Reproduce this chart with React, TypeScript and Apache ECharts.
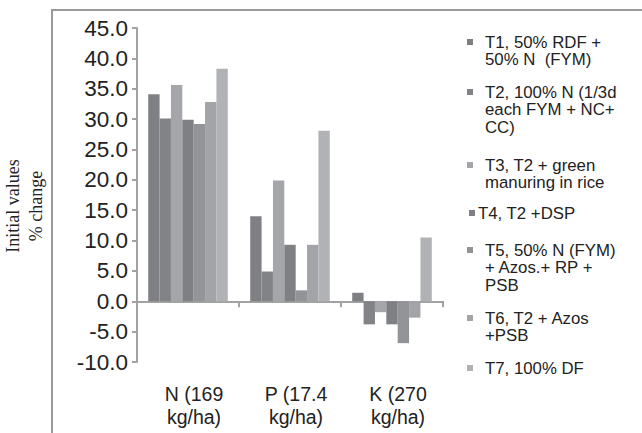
import React, { useEffect, useRef } from "react";
import * as echarts from "echarts";

const categories = ["N (169\nkg/ha)", "P (17.4\nkg/ha)", "K (270\nkg/ha)"];
const seriesNames = [
  "T1, 50% RDF +\n50% N  (FYM)",
  "T2, 100% N (1/3d\neach FYM + NC+\nCC)",
  "T3, T2 + green\nmanuring in rice",
  "T4, T2 +DSP",
  "T5, 50% N (FYM)\n+ Azos.+ RP +\nPSB",
  "T6, T2 + Azos\n+PSB",
  "T7, 100% DF",
];
const t1 = [34.1, 14.0, 1.4];
const t2 = [30.1, 4.9, -3.8];
const t3 = [35.6, 19.9, -1.8];
const t4 = [29.9, 9.3, -3.8];
const t5 = [29.2, 1.8, -6.9];
const t6 = [32.8, 9.3, -2.7];
const t7 = [38.3, 28.1, 10.5];
const seriesValues = [t1, t2, t3, t4, t5, t6, t7];
const colors = ["#7f8084", "#828387", "#a5a6a9", "#7f8084", "#939498", "#a3a4a7", "#b1b2b5"];
const legendFirstLineY = [42, 92, 165, 213, 250, 318, 368];

const SANS = '"Liberation Sans", Arial, sans-serif';
const SERIF = '"Liberation Serif", "Times New Roman", serif';
const AXIS_GRAY = "#a2a2a2";

export default function App() {
  const ref = useRef<HTMLDivElement>(null);
  useEffect(() => {
    if (!ref.current) return;
    const chart = echarts.init(ref.current, null, { renderer: "svg" });
    const legendGraphics: any[] = [];
    seriesNames.forEach((name, i) => {
      const y = legendFirstLineY[i];
      const isShort = i === 3;
      legendGraphics.push({
        type: "rect",
        shape: { x: isShort ? 469 : 467, y: y - 3, width: 6, height: 6 },
        style: { fill: colors[i] },
      });
      legendGraphics.push({
        type: "text",
        x: isShort ? 478 : 485,
        y: y - 8.75,
        style: {
          text: name,
          font: `16.8px ${SANS}`,
          lineHeight: 17.5,
          fill: "#222",
          textAlign: "left",
          textVerticalAlign: "top",
        },
      });
    });
    chart.setOption({
      animation: false,
      backgroundColor: "#fff",
      grid: { left: 124, right: 199, top: 28, bottom: 71, containLabel: false },
      xAxis: [
        {
          type: "category",
          data: categories,
          axisLine: { onZero: true, lineStyle: { color: AXIS_GRAY, width: 2 } },
          axisTick: { show: true, length: 6, lineStyle: { color: AXIS_GRAY, width: 2 } },
          axisLabel: { show: false },
          splitLine: { show: false },
        },
        {
          type: "category",
          data: categories,
          position: "bottom",
          axisLine: { show: false, onZero: false },
          axisTick: { show: false },
          axisLabel: {
            show: true,
            fontFamily: SANS,
            fontSize: 19.5,
            lineHeight: 23,
            color: "#222",
            margin: 20,
            padding: [0, 0, 0, 12],
          },
          splitLine: { show: false },
        },
      ],
      yAxis: {
        type: "value",
        min: -10,
        max: 45,
        interval: 5,
        name: "Initial values\n% change",
        nameLocation: "middle",
        nameGap: 90,
        nameRotate: 90,
        nameTextStyle: {
          fontFamily: SERIF,
          fontSize: 18,
          lineHeight: 23,
          color: "#222",
          padding: [0, 22, 0, 0],
        },
        axisLine: { show: true, lineStyle: { color: AXIS_GRAY, width: 2 } },
        axisTick: { show: true, inside: false, length: 5, lineStyle: { color: AXIS_GRAY, width: 2 } },
        axisLabel: {
          fontFamily: SANS,
          fontSize: 22.5,
          color: "#222",
          margin: 9,
          formatter: (v: number) => v.toFixed(1),
        },
        splitLine: { show: false },
      },
      series: seriesValues.map((vals, i) => ({
        type: "bar",
        name: seriesNames[i],
        data: vals,
        xAxisIndex: 0,
        barGap: "0%",
        barCategoryGap: "22%",
        itemStyle: { color: colors[i] },
      })),
      graphic: [
        {
          type: "polyline",
          shape: { points: [[52, 433], [52, 10], [642, 10]] },
          style: { stroke: "#9a9a9a", lineWidth: 2, fill: "none" },
          silent: true,
        },
        ...legendGraphics,
      ],
    });
    return () => chart.dispose();
  }, []);
  return (
    <div
      ref={ref}
      style={{ position: "absolute", left: 0, top: 0, width: 642, height: 433 }}
    />
  );
}
